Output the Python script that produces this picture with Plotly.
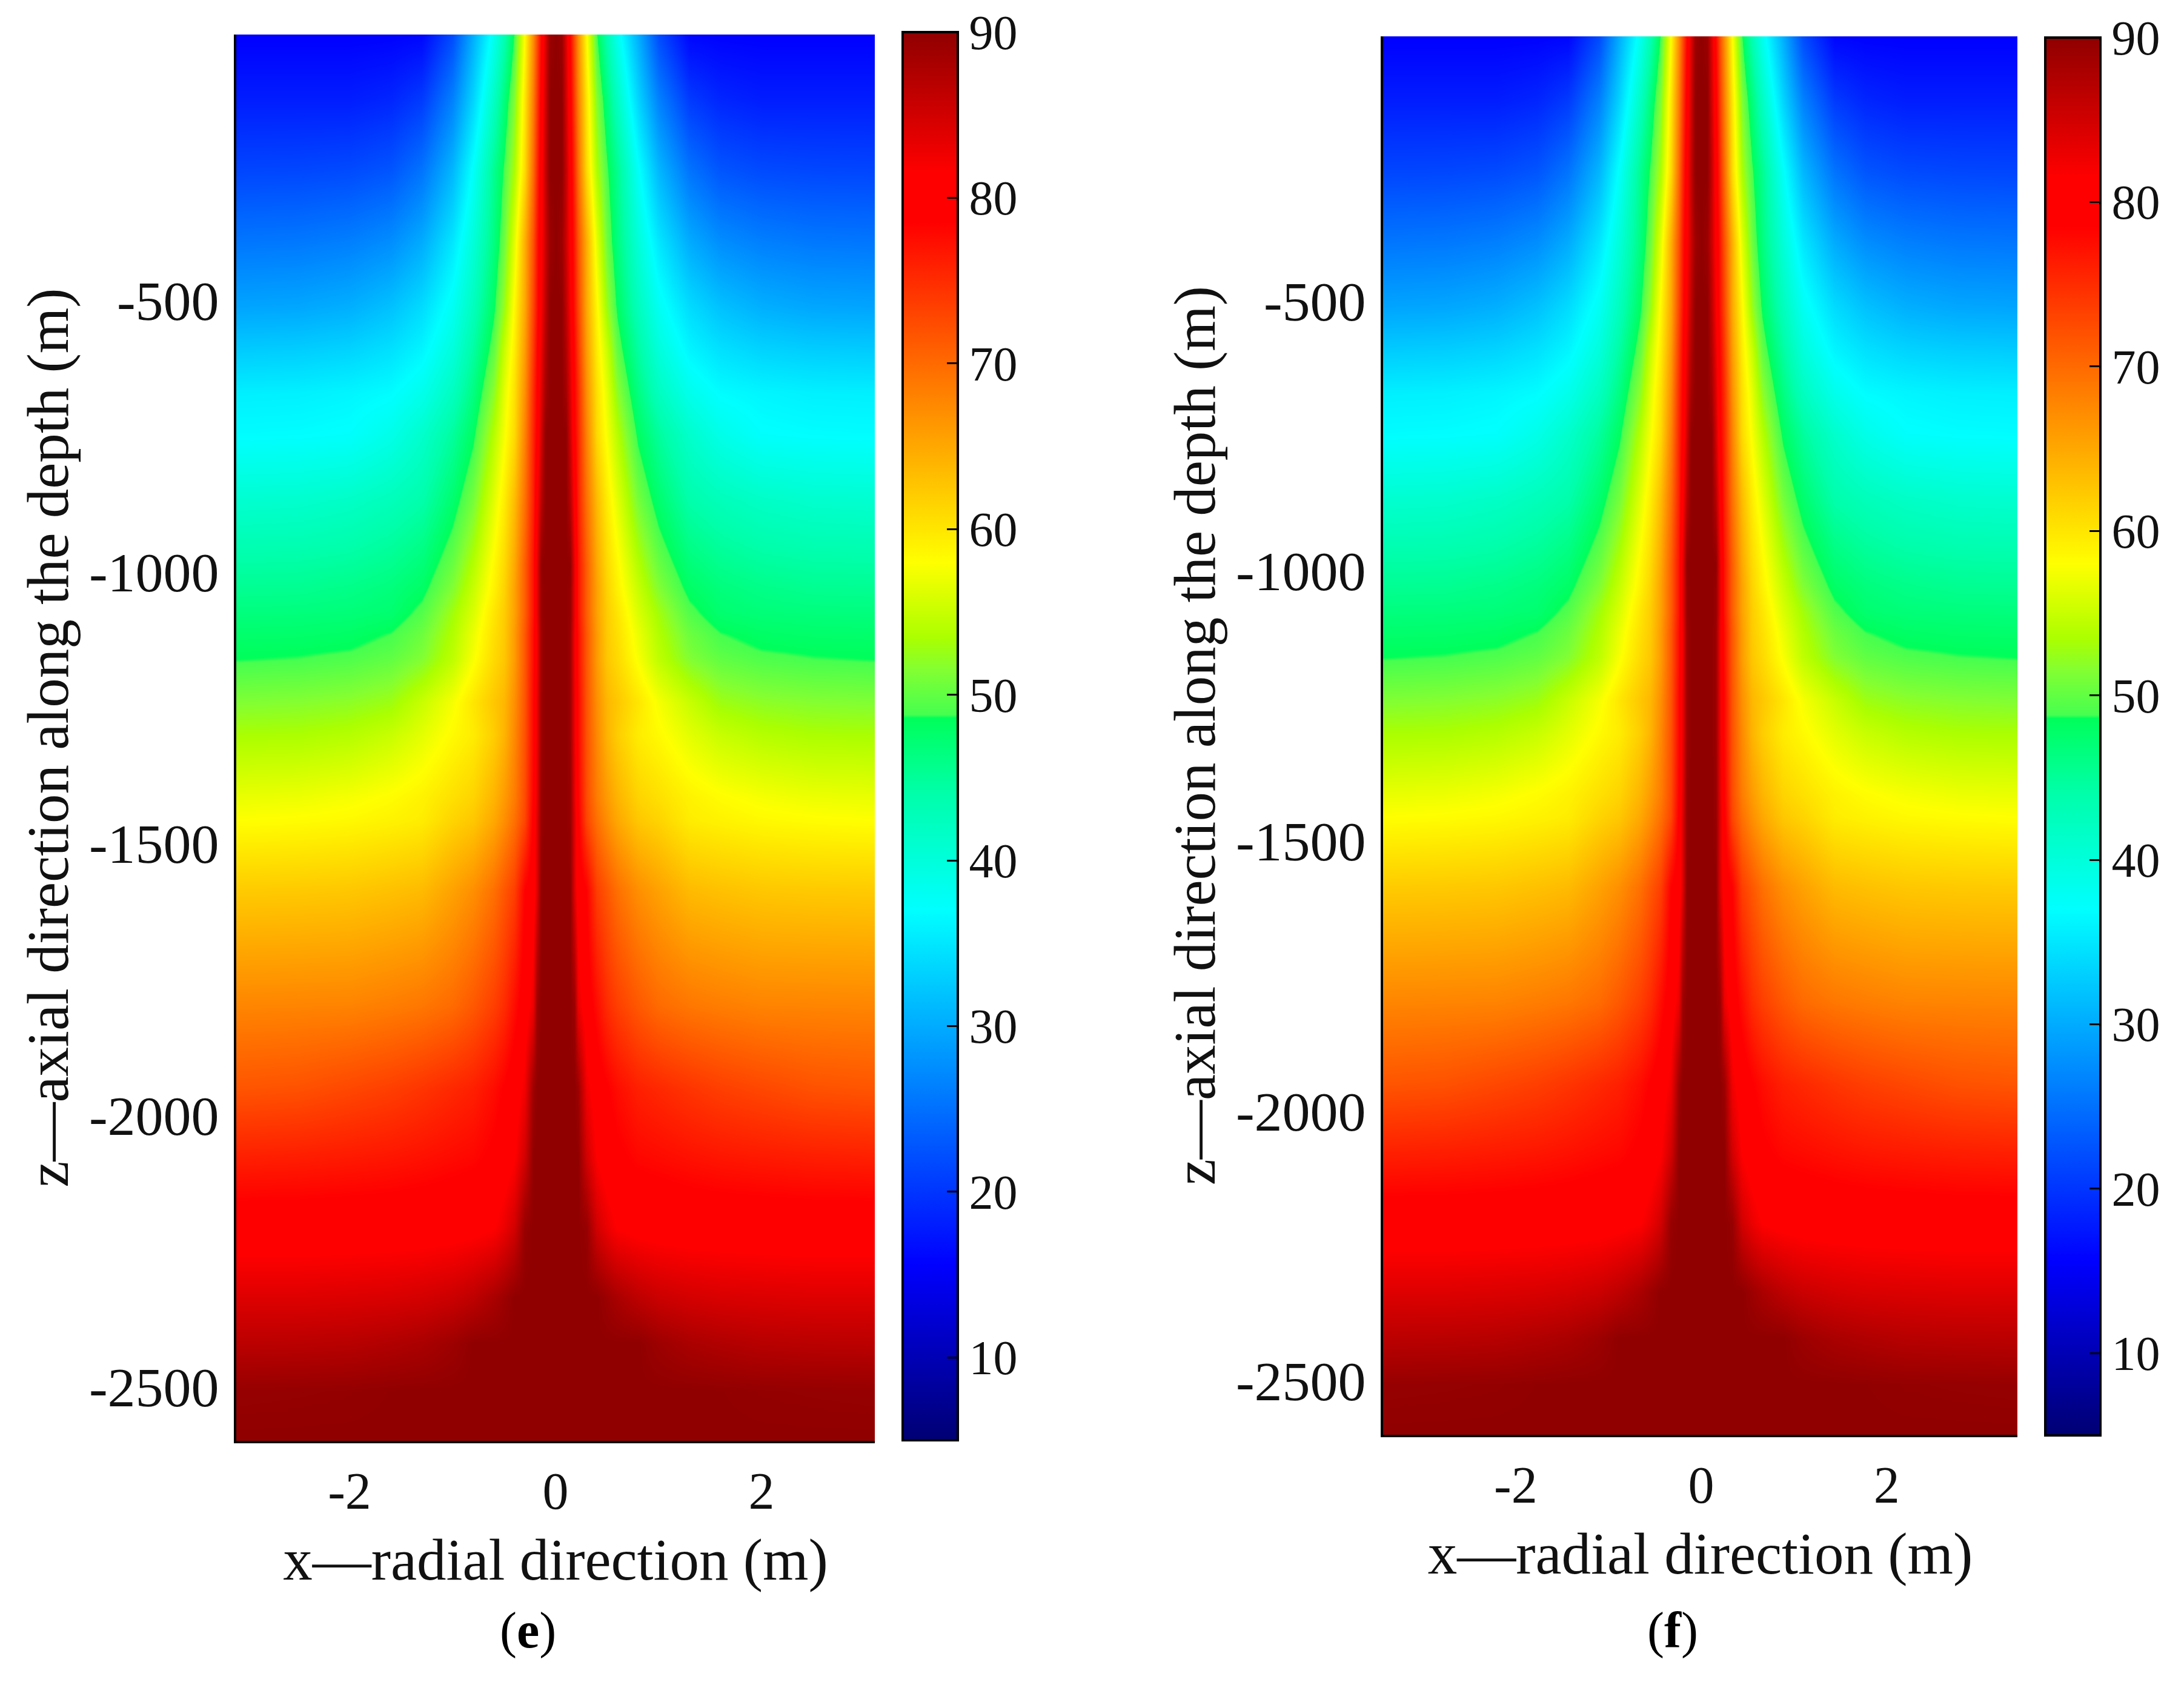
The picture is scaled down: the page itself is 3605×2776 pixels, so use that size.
import plotly.graph_objects as go

PAGE_W, PAGE_H = 3605, 2776
BODY = 8  # the page keeps the browser's default body margin
W, H = PAGE_W - 2 * BODY, PAGE_H - 2 * BODY

# radial positions (m), centre to edge
radial_e = [0, .06, .10, .14, .18, .22, .30, .40, .50, .60, .80, 1.0, 1.3, 1.6, 2.0, 2.5, 3.1]
radial_f = [0, .066, .11, .155, .20, .245, .33, .44, .55, .66, .88, 1.1, 1.44, 1.77, 2.21, 2.77, 3.43]
# depth (m)
depths = [0, -130, -260, -392, -511, -591, -670, -745, -870, -989, -1030, -1075, -1115, -1140,
          -1160, -1240, -1300, -1414, -1457, -1586, -1800, -1950, -2078, -2207, -2335, -2420, -2507, -2600]
# temperature (deg C) read through the colour bar; one row per depth, one value per radial position
temps = [
    [90, 89, 84, 78, 72, 67, 58, 48.7, 43, 38, 30, 21.5, 15.6, 15.4, 15.3, 15.3, 15.3],
    [90, 90, 85, 79.5, 73.5, 68.5, 60, 51.5, 46.7, 42, 33.5, 26.5, 20.5, 18.7, 18, 18, 18],
    [90, 90, 86, 80.5, 75, 70, 61, 53.5, 49, 45.5, 37.5, 31, 25.3, 22.7, 21.8, 21.5, 21.4],
    [90, 89, 85.5, 81, 76.5, 72, 64.5, 56.5, 50.5, 46.5, 40.2, 35, 30, 27.5, 26.3, 25.7, 25.5],
    [90, 90, 86.5, 82, 77, 73, 65, 58.5, 52.5, 48.2, 42.5, 38, 34, 31.8, 30.3, 29.6, 29.4],
    [90, 90, 87.5, 83, 78, 74, 66, 59.5, 55, 50, 44.5, 40, 36.2, 34.5, 33.4, 32.9, 32.7],
    [90, 90, 88.5, 84, 78.5, 75, 67, 60.5, 56.5, 52, 46.4, 42.3, 38.6, 36.8, 36.2, 35.8, 35.7],
    [90, 90, 90, 85, 79, 75.5, 68, 61, 57.5, 54, 48.2, 44.8, 41.2, 38.8, 37.2, 36.9, 36.8],
    [90, 90, 90, 87, 81, 76, 69.5, 63.5, 59.5, 56.5, 51, 47.6, 44, 42.8, 41.8, 41.2, 41],
    [90, 90, 90, 90, 83, 77, 71, 65, 61, 58.5, 54, 50.4, 47, 45.7, 44.9, 44.5, 44.4],
    [90, 90, 90, 89.5, 83, 77, 71, 65.5, 61.5, 59, 55, 51.5, 48, 46.7, 46, 45.5, 45.4],
    [90, 90, 90, 89.5, 83, 77, 71, 65.5, 62, 60, 56, 53, 49.3, 47.4, 46.9, 46.7, 46.6],
    [90, 90, 90, 89, 82.5, 77.5, 71.5, 66, 62.2, 60.5, 57, 53.8, 50.5, 48.8, 48, 47.7, 47.6],
    [90, 90, 90, 89, 82.5, 77.5, 71.5, 66, 62.4, 60.8, 57.3, 54.2, 51, 49.4, 48.6, 48.3, 48.2],
    [90, 90, 90, 89, 82.5, 77.5, 71.5, 66, 62.5, 61, 57.7, 54.5, 51.5, 50, 49.2, 48.8, 48.6],
    [90, 90, 90, 89, 83, 78, 71.8, 67, 63.8, 62.5, 60, 57.5, 55, 52.8, 52, 51.6, 51.4],
    [90, 90, 90, 89, 83, 78, 72, 67.5, 64, 62, 59.5, 58.4, 56.5, 55, 54, 53.5, 53.4],
    [90, 90, 90, 89.5, 83.5, 78.5, 72.5, 68.5, 66, 64, 61.5, 60.5, 59, 58.2, 57.5, 57, 56.8],
    [90, 90, 90, 89.5, 84, 79, 73, 69.5, 67, 65, 62.5, 61.5, 59.5, 59, 58.5, 58.2, 58],
    [90, 90, 90, 90, 84, 80, 78.5, 73.5, 71.5, 69.5, 67, 65.5, 63.5, 63, 62.5, 62.3, 62.2],
    [90, 90, 90, 90, 89, 83, 80, 77.5, 75, 73.5, 71.5, 70, 69, 68.5, 68, 67.9, 67.8],
    [90, 90, 90, 90, 90, 89, 82.5, 80, 78.7, 77.5, 76, 75.3, 74.3, 73.5, 72.8, 72, 71.7],
    [90, 90, 90, 90, 90, 90, 85, 81.5, 80, 79, 78, 77.7, 77.2, 76.8, 76.5, 76.2, 76],
    [90, 90, 90, 90, 90, 90, 89.5, 85, 83, 81.5, 80.8, 80.5, 80.3, 80.2, 80.1, 80, 80],
    [90, 90, 90, 90, 90, 90, 90, 90, 89, 88, 86.5, 85.5, 84.8, 84.4, 84.2, 84, 84],
    [90, 90, 90, 90, 90, 90, 90, 90, 90, 90, 90, 89, 88, 87.5, 87, 86.8, 86.7],
    [90, 90, 90, 90, 90, 90, 90, 90, 90, 90, 90, 90, 90, 89.9, 89.7, 89.6, 89.5],
    [90, 90, 90, 90, 90, 90, 90, 90, 90, 90, 90, 90, 90, 90, 90, 90, 90],
]
x_ticks = [-2, 0, 2]
x_labels = ["-2", "0", "2"]
y_ticks = [-500, -1000, -1500, -2000, -2500]
y_labels = ["-500", "-1000", "-1500", "-2000", "-2500"]
bar_ticks = [10, 20, 30, 40, 50, 60, 70, 80, 90]

# colour bar: value -> colour
bar_stops = [5, 15.6, 37, 44, 48.6, 48.8, 51.5, 53.4, 58, 78.5, 81.5, 90]
bar_colors = ["rgb(0,0,115)", "rgb(0,0,255)", "rgb(0,255,255)", "rgb(0,255,170)",
              "rgb(0,255,90)", "rgb(70,255,80)", "rgb(130,255,50)", "rgb(170,255,0)",
              "rgb(255,255,0)", "rgb(255,0,0)", "rgb(255,0,0)", "rgb(144,0,0)"]
scale = [[(v - 5) / 85, c] for v, c in zip(bar_stops, bar_colors)]

FONT = "Liberation Serif"


def fx(px):
    return (px - BODY) / W


def fy(px):
    return 1 - (px - BODY) / H


def mirror(rows):
    return [r[:0:-1] + r for r in rows]


def heat(radial, xa, ya, bar_left, bar_top, bar_bottom):
    return go.Heatmap(
        x=[-v for v in radial[:0:-1]] + radial,
        y=depths[::-1],
        z=mirror(temps)[::-1],
        xaxis=xa, yaxis=ya,
        zmin=5, zmax=90, colorscale=scale, zsmooth="best",
        colorbar=dict(
            x=fx(bar_left), xanchor="left", xpad=0,
            y=fy(bar_top), yanchor="top", ypad=0,
            lenmode="pixels", len=bar_bottom - bar_top,
            thickness=91, thicknessmode="pixels",
            outlinecolor="black", outlinewidth=4,
            ticks="inside", ticklen=20, tickwidth=3, tickcolor="black",
            tickvals=bar_ticks, tickprefix="\u00a0\u00a0",
            tickfont=dict(family=FONT, size=80, color="#111"),
        ),
    )


fig = go.Figure([
    heat(radial_e, "x", "y", 1490, 53, 2377),
    heat(radial_f, "x2", "y2", 3376, 62, 2369),
])


def xax(l, r, rng, anchor):
    return dict(domain=[fx(l), fx(r)], range=rng, anchor=anchor, showgrid=False, zeroline=False,
                showline=True, linecolor="black", linewidth=4, ticks="",
                tickvals=x_ticks, ticktext=x_labels, ticklabelstandoff=5,
                tickfont=dict(family=FONT, size=86, color="#111"),
                title=dict(text="x\u2014radial direction (m)", standoff=32,
                           font=dict(family=FONT, size=97, color="#111")))


def yax(t, b, anchor):
    return dict(domain=[fy(b), fy(t)], range=[-2600, -10], anchor=anchor, showgrid=False, zeroline=False,
                showline=True, linecolor="black", linewidth=4, ticks="",
                tickvals=y_ticks, ticktext=y_labels, ticklabelstandoff=6,
                tickfont=dict(family=FONT, size=92, color="#111"),
                title=dict(text="z\u2014axial direction along the depth (m)", standoff=3,
                           font=dict(family=FONT, size=97, color="#111")))


fig.update_layout(
    width=W, height=H, autosize=False, showlegend=False,
    margin=dict(l=0, r=0, t=0, b=0, pad=0, autoexpand=False),
    paper_bgcolor="white", plot_bgcolor="white",
    xaxis=xax(390, 1444, [-3.1, 3.1], "y"),
    yaxis=yax(57, 2378, "x"),
    xaxis2=xax(2283, 3330, [-3.43, 3.41], "y2"),
    yaxis2=yax(60, 2368, "x2"),
    annotations=[
        dict(text="(<b>e</b>)", x=fx(871), y=fy(2691), xref="paper", yref="paper", showarrow=False,
             xanchor="center", yanchor="middle", font=dict(family=FONT, size=84, color="black")),
        dict(text="(<b>f</b>)", x=fx(2761), y=fy(2691), xref="paper", yref="paper", showarrow=False,
             xanchor="center", yanchor="middle", font=dict(family=FONT, size=84, color="black")),
    ],
)
fig.write_html("out.html")
